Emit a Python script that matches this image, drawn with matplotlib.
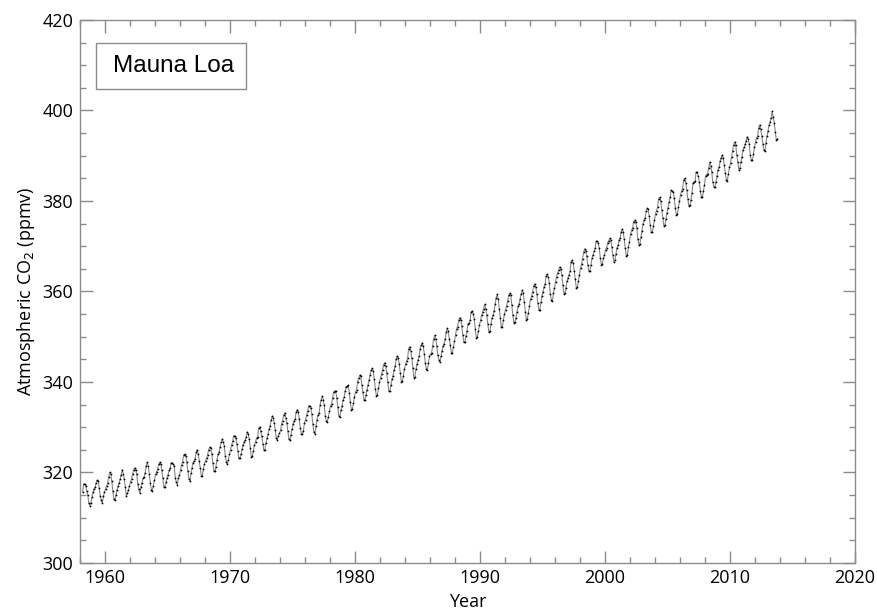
import matplotlib
matplotlib.use('Agg')

import matplotlib.pyplot as plt
from matplotlib.patches import Rectangle
from matplotlib.ticker import MultipleLocator
import numpy as np

# monthly mean CO2 at Mauna Loa (ppmv)
start_year = 1958
start_month = 3  # series starts in March 1958

co2_1950s = [
    315.71, 317.45, 317.50, 317.10, 315.86, 314.93, 313.20, 312.66, 313.33, 314.67,
    315.62, 316.38, 316.71, 317.72, 318.29, 318.15, 316.54, 314.80, 313.84, 313.26, 314.80, 315.58,
]
co2_1960s = [
    316.43, 316.97, 317.58, 319.02, 320.03, 319.59, 318.18, 315.91, 314.16, 313.83, 315.00, 316.19,
    316.93, 317.70, 318.54, 319.48, 320.58, 319.77, 318.57, 316.79, 314.80, 315.38, 316.10, 317.01,
    317.94, 318.56, 319.68, 320.63, 321.01, 320.55, 319.58, 317.40, 316.26, 315.42, 316.69, 317.69,
    318.74, 319.08, 319.86, 321.39, 322.25, 321.47, 319.74, 317.77, 316.21, 315.99, 317.12, 318.31,
    319.57, 320.07, 320.73, 321.77, 322.25, 321.89, 320.44, 318.70, 316.70, 316.79, 317.79, 318.71,
    319.44, 320.44, 320.89, 322.13, 322.16, 321.87, 321.39, 318.81, 317.81, 317.30, 318.87, 319.42,
    320.62, 321.59, 322.39, 323.87, 324.01, 323.75, 322.39, 320.37, 318.64, 318.10, 319.79, 321.08,
    322.07, 322.50, 323.04, 324.42, 325.00, 324.09, 322.55, 320.92, 319.31, 319.31, 320.72, 321.96,
    322.57, 323.15, 323.89, 325.02, 325.57, 325.36, 324.14, 322.03, 320.41, 320.25, 321.31, 322.84,
    324.00, 324.42, 325.64, 326.66, 327.34, 326.76, 325.88, 323.67, 322.38, 321.78, 322.85, 324.11,
]
co2_1970s = [
    325.03, 325.99, 326.87, 328.13, 328.07, 327.66, 326.35, 324.69, 323.10, 323.16, 323.98, 325.13,
    326.17, 326.68, 327.18, 327.78, 328.92, 328.57, 327.34, 325.46, 323.36, 323.57, 324.80, 326.01,
    326.77, 327.63, 327.75, 329.72, 330.07, 329.09, 328.05, 326.32, 324.93, 325.06, 326.50, 327.55,
    328.54, 329.56, 330.30, 331.50, 332.48, 332.07, 330.87, 329.31, 327.51, 327.18, 328.16, 328.64,
    329.35, 330.71, 331.48, 332.65, 333.16, 332.06, 330.99, 329.17, 327.41, 327.20, 328.33, 329.50,
    330.68, 331.41, 331.85, 333.29, 333.91, 333.40, 331.78, 329.88, 328.57, 328.46, 329.26, 330.97,
    331.60, 332.60, 333.57, 334.72, 334.68, 334.17, 332.96, 330.80, 328.98, 328.57, 330.20, 331.58,
    332.67, 333.17, 334.86, 336.07, 336.82, 336.12, 334.81, 332.56, 331.30, 331.22, 332.37, 333.49,
    334.71, 335.23, 336.54, 337.79, 337.95, 338.00, 336.37, 334.47, 332.46, 332.29, 333.76, 334.80,
    336.00, 336.63, 337.93, 338.95, 339.05, 339.27, 337.64, 335.68, 333.77, 334.09, 335.29, 336.76,
]
co2_1980s = [
    337.77, 338.26, 340.10, 340.88, 341.47, 341.31, 339.41, 337.74, 336.10, 336.05, 337.21, 338.29,
    339.36, 340.51, 341.57, 342.56, 343.01, 342.47, 340.71, 338.52, 336.96, 337.13, 338.58, 339.89,
    340.93, 341.69, 342.69, 343.79, 344.30, 343.43, 341.88, 339.89, 337.95, 338.10, 339.27, 340.67,
    341.42, 342.68, 343.46, 345.10, 345.76, 345.36, 343.91, 342.05, 340.00, 340.12, 341.33, 342.94,
    343.87, 344.60, 345.20, 347.36, 347.81, 346.74, 345.36, 343.19, 340.97, 341.20, 342.76, 343.96,
    344.82, 345.82, 347.24, 348.09, 348.66, 347.90, 346.27, 344.21, 342.88, 342.58, 344.27, 345.66,
    346.17, 346.44, 347.86, 349.52, 350.29, 349.56, 347.92, 345.90, 344.86, 344.32, 345.67, 346.88,
    348.02, 348.47, 349.42, 350.99, 351.84, 351.25, 349.51, 348.10, 346.45, 346.36, 347.81, 348.96,
    350.43, 351.72, 352.22, 353.59, 354.22, 353.79, 352.39, 350.43, 348.73, 348.88, 350.07, 351.34,
    352.76, 353.07, 353.68, 355.42, 355.67, 355.13, 353.90, 351.67, 349.80, 349.99, 351.30, 352.52,
]
co2_1990s = [
    353.66, 354.70, 355.39, 356.20, 357.16, 356.22, 354.82, 352.91, 350.96, 351.18, 352.83, 354.21,
    354.72, 355.75, 357.16, 358.60, 359.34, 358.24, 356.17, 354.03, 352.16, 352.21, 353.75, 354.99,
    355.98, 356.72, 357.81, 359.15, 359.66, 359.25, 357.02, 354.81, 353.01, 353.31, 354.16, 355.40,
    356.70, 357.16, 358.38, 359.46, 360.28, 359.60, 357.57, 355.52, 353.70, 353.98, 355.33, 356.80,
    358.36, 358.91, 359.97, 361.26, 361.68, 360.95, 359.55, 357.49, 355.84, 356.00, 357.59, 359.05,
    359.98, 361.03, 361.66, 363.48, 363.82, 363.30, 361.94, 359.50, 358.11, 357.80, 359.61, 360.74,
    362.09, 363.29, 364.06, 364.76, 365.45, 365.01, 363.70, 361.54, 359.51, 359.65, 360.80, 362.38,
    363.04, 363.73, 364.60, 366.62, 366.92, 366.21, 364.58, 362.71, 360.71, 360.90, 362.32, 363.64,
    365.26, 365.98, 367.22, 368.66, 369.42, 368.99, 367.81, 365.83, 364.48, 364.61, 365.88, 367.32,
    368.14, 368.86, 369.50, 371.08, 371.11, 370.75, 369.50, 367.49, 365.91, 366.14, 367.37, 368.12,
]
co2_2000s = [
    369.17, 369.67, 370.69, 371.18, 371.71, 371.43, 369.85, 368.07, 366.56, 366.97, 368.37, 369.67,
    370.24, 371.34, 371.88, 373.17, 373.78, 373.12, 371.49, 369.50, 367.86, 368.12, 369.72, 371.03,
    372.66, 373.49, 374.04, 375.37, 375.82, 375.37, 373.98, 371.67, 370.30, 370.51, 372.02, 373.35,
    375.01, 375.84, 376.28, 377.68, 378.35, 378.13, 376.58, 374.61, 373.04, 373.06, 374.39, 375.85,
    377.18, 377.89, 378.63, 380.50, 380.79, 379.95, 378.05, 376.26, 374.48, 374.70, 375.97, 377.40,
    378.47, 379.76, 380.83, 382.37, 382.17, 382.07, 380.59, 378.48, 376.81, 377.16, 378.58, 380.09,
    381.38, 382.19, 382.67, 384.61, 385.03, 384.05, 382.46, 380.41, 378.85, 379.13, 380.15, 381.82,
    383.89, 384.21, 384.38, 386.36, 386.30, 385.54, 384.26, 382.31, 380.88, 380.77, 382.12, 383.53,
    385.52, 385.82, 386.03, 387.21, 388.54, 387.76, 386.36, 384.09, 383.18, 382.99, 384.19, 385.56,
    386.94, 387.48, 388.82, 389.55, 390.14, 389.48, 388.03, 386.11, 384.74, 384.43, 386.02, 387.42,
]
co2_2010s = [
    388.45, 389.82, 391.08, 392.46, 393.05, 392.35, 390.24, 388.53, 386.84, 387.24, 388.67, 389.79,
    391.33, 391.86, 392.60, 393.25, 394.19, 393.73, 392.51, 390.13, 389.08, 389.00, 390.28, 391.86,
    393.12, 393.86, 394.40, 396.18, 396.78, 395.83, 394.45, 392.62, 391.21, 391.01, 392.84, 394.28,
    395.55, 396.80, 397.43, 398.41, 399.78, 398.60, 397.32, 395.20, 393.45, 393.70,
]

co2 = np.array(co2_1950s + co2_1960s + co2_1970s + co2_1980s + co2_1990s + co2_2000s + co2_2010s)
months = np.arange(len(co2)) + (start_month - 1)
t = start_year + (months + 0.5) / 12.0

fig = plt.figure(figsize=(8.77, 6.11), dpi=100)
ax = fig.add_axes([0.0912, 0.0786, 0.8837, 0.8887])

ax.plot(t, co2, color='0.5', lw=0.75, marker='o', ms=1.3,
        mfc='black', mec='none', zorder=3)

ax.set_xlim(1958, 2020)
ax.set_ylim(300, 420)

ax.xaxis.set_major_locator(MultipleLocator(10))
ax.xaxis.set_minor_locator(MultipleLocator(2))
ax.yaxis.set_major_locator(MultipleLocator(20))
ax.yaxis.set_minor_locator(MultipleLocator(5))

grey = '#8c8c8c'
for s in ax.spines.values():
    s.set_color(grey)
    s.set_linewidth(1.0)
ax.tick_params(which='both', direction='in', top=True, right=True, color=grey, width=1.0)
ax.tick_params(which='major', length=9, labelsize=13)
ax.tick_params(axis='x', which='major', pad=4)
ax.tick_params(axis='y', which='major', pad=5)
ax.tick_params(which='minor', length=4.5)
for lab in ax.get_xticklabels() + ax.get_yticklabels():
    lab.set_family('Open Sans')

ax.set_xlabel('Year', family='Open Sans', fontsize=13, labelpad=5)
ax.set_ylabel('Atmospheric CO$_2$ (ppmv)', family='Open Sans', fontsize=13, labelpad=4)

# "Mauna Loa" label box
ax.add_patch(Rectangle((0.0206, 0.873), 0.1935, 0.0846, transform=ax.transAxes,
                       fill=False, edgecolor=grey, lw=1.0, zorder=4))
ax.text(0.121, 0.9157, 'Mauna Loa', transform=ax.transAxes, ha='center', va='center',
        family='Liberation Sans', fontsize=17.5)

fig.savefig('out.png', dpi=100)
